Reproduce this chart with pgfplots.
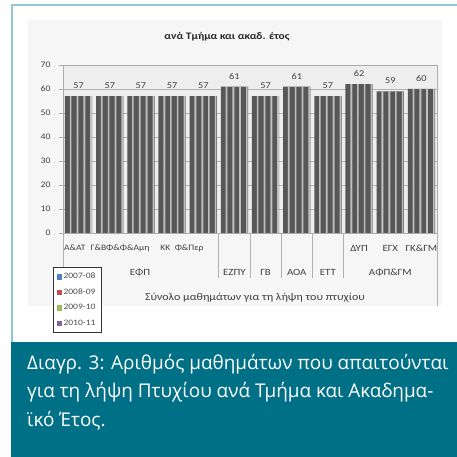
\documentclass[border=0pt]{standalone}
\usepackage{pgfplots}
\pgfplotsset{compat=1.18}
\usepackage{fontspec}
\setmainfont{Carlito}[FakeStretch=1.15]
\newfontfamily\capfont{Open Sans}
\definecolor{frameblue}{RGB}{147,198,214}
\definecolor{capteal}{RGB}{0,112,134}
\definecolor{xlblue}{RGB}{79,129,189}
\definecolor{xlred}{RGB}{192,80,77}
\definecolor{xlgreen}{RGB}{155,187,89}
\definecolor{xlpurple}{RGB}{128,100,162}
\pgfplotstableread{
x v
0 57
1 57
2 57
3 57
4 57
5 61
6 57
7 61
8 57
9 62
10 59
11 60
}\groupdata
\pgfplotsset{
  darkbar/.style={ybar, forget plot, bar width=6.8bp, draw=none, fill=black!66},
  lightbar/.style={ybar, forget plot, bar width=1.6bp, draw=none, fill=black!25},
}
\tikzset{cat/.style={font=\fontsize{9.5}{11}\selectfont, text=black!75, inner sep=0},
  cat1/.style={font=\fontsize{8.3}{10}\selectfont, text=black!75, inner sep=0}}
\begin{document}
\begin{tikzpicture}
\begin{scope}[x=1bp,y=1bp]
\path[use as bounding box] (0,0) rectangle (457,457);
\fill[white] (0,0) rectangle (457,457);
\fill[gray!7] (28,151) rectangle (442,437);
\draw[frameblue, line width=1.5bp] (12,115) -- (12,452) -- (457,452);
\fill[capteal] (11,0) rectangle (457,115);
\node[anchor=base west, inner sep=0, text=white, font=\capfont\fontsize{19}{22}\selectfont] at (27,87) {Διαγρ. 3: Αριθμός μαθημάτων που απαιτούνται};
\node[anchor=base west, inner sep=0, text=white, font=\capfont\fontsize{19}{22}\selectfont] at (27,59) {για τη λήψη Πτυχίου ανά Τμήμα και Ακαδημα-};
\node[anchor=base west, inner sep=0, text=white, font=\capfont\fontsize{19}{22}\selectfont] at (27,30) {ϊκό Έτος.};
\end{scope}
\begin{axis}[
  at={(63bp,224bp)}, anchor=south west,
  scale only axis, width=374bp, height=168bp,
  xmin=-0.5, xmax=11.5, ymin=0, ymax=70,
  ytick={0,10,...,70}, xtick=\empty,
  minor xtick={0.5,1.5,...,10.5},
  xminorgrids, minor grid style={gray!40, line width=0.6bp},
  ymajorgrids, major grid style={gray!60, line width=0.5bp},
  axis background/.style={fill=gray!13},
  axis line style={gray!65, line width=0.8bp},
  tick style={gray!65}, tick pos=left, tick align=outside,
  major tick length=4bp, minor tick length=0pt,
  tick label style={font=\fontsize{8.5}{10}\selectfont, text=black!75},
  yticklabel style={xshift=-5bp},
  /pgf/number format/assume math mode=true,
  clip=false,
  legend style={at={(rel axis cs:-0.027,-0.205)}, anchor=north west,
    draw=black!80, fill=white, font=\fontsize{8.3}{9}\selectfont,
    row sep=4.5bp, inner sep=3.5bp, text=black!70},
  legend cell align=left,
]
\addplot[darkbar, bar shift=-10.2bp] table[x=x,y=v] {\groupdata};
\addplot[darkbar, bar shift=-3.4bp] table[x=x,y=v] {\groupdata};
\addplot[darkbar, bar shift=3.4bp] table[x=x,y=v] {\groupdata};
\addplot[darkbar, bar shift=10.2bp] table[x=x,y=v] {\groupdata};
\addplot[lightbar, bar shift=-8.0bp] table[x=x,y=v] {\groupdata};
\addplot[lightbar, bar shift=-1.2bp] table[x=x,y=v] {\groupdata};
\addplot[lightbar, bar shift=5.6bp] table[x=x,y=v] {\groupdata};
\addplot[lightbar, bar shift=12.4bp] table[x=x,y=v] {\groupdata};
\addplot[ybar, forget plot, bar width=0pt, bar shift=0pt, draw=none, fill=none,
  nodes near coords, nodes near coords style={font=\fontsize{9}{10}\selectfont, anchor=south, yshift=4bp, text=black!75}] table[x=x,y=v] {\groupdata};
\addlegendimage{legend image code/.code={\fill[xlblue] (0bp,-2.3bp) rectangle (4.6bp,2.3bp);}}
\addlegendentry{2007-08}
\addlegendimage{legend image code/.code={\fill[xlred] (0bp,-2.3bp) rectangle (4.6bp,2.3bp);}}
\addlegendentry{2008-09}
\addlegendimage{legend image code/.code={\fill[xlgreen] (0bp,-2.3bp) rectangle (4.6bp,2.3bp);}}
\addlegendentry{2009-10}
\addlegendimage{legend image code/.code={\fill[xlpurple] (0bp,-2.3bp) rectangle (4.6bp,2.3bp);}}
\addlegendentry{2010-11}
% multi-level category axis
\draw[gray!60, line width=0.8bp] (axis cs:-0.5,0) -- (axis cs:-0.5,-18.75);
\draw[gray!60, line width=0.8bp] (axis cs:4.5,0) -- (axis cs:4.5,-18.75);
\draw[gray!60, line width=0.8bp] (axis cs:5.5,0) -- (axis cs:5.5,-18.75);
\draw[gray!60, line width=0.8bp] (axis cs:6.5,0) -- (axis cs:6.5,-18.75);
\draw[gray!60, line width=0.8bp] (axis cs:7.5,0) -- (axis cs:7.5,-18.75);
\draw[gray!60, line width=0.8bp] (axis cs:8.5,0) -- (axis cs:8.5,-18.75);
\draw[gray!60, line width=0.8bp] (axis cs:11.5,0) -- (axis cs:11.5,-30.4);
\node[cat1, anchor=west] at (axis cs:-0.47,-6.25) {Α\&ΑΤ};
\node[cat1, anchor=west] at (axis cs:0.38,-6.25) {Γ\&ΒΦ\&Φ\&Αμη};
\node[cat1, anchor=west] at (axis cs:2.62,-6.25) {ΚΚ};
\node[cat1, anchor=west] at (axis cs:3.08,-6.25) {Φ\&Περ};
\node[cat] at (axis cs:9,-6.25) {ΔΥΠ};
\node[cat] at (axis cs:10,-6.25) {ΕΓΧ};
\node[cat] at (axis cs:11,-6.25) {ΓΚ\&ΓΜ};
\node[cat] at (axis cs:1.97,-16.25) {ΕΦΠ};
\node[cat] at (axis cs:5,-16.25) {ΕΖΠΥ};
\node[cat] at (axis cs:6,-16.25) {ΓΒ};
\node[cat] at (axis cs:7,-16.25) {ΑΟΑ};
\node[cat] at (axis cs:8,-16.25) {ΕΤΤ};
\node[cat] at (axis cs:10,-16.25) {ΑΦΠ\&ΓΜ};
\node[cat, font=\fontsize{10.5}{12}\selectfont] at (axis cs:5.66,-27.1) {Σύνολο μαθημάτων για τη λήψη του πτυχίου};
\node[font=\bfseries\fontsize{10}{12}\selectfont, text=black!85, inner sep=0] at (axis cs:4.76,81.7) {ανά Τμήμα και ακαδ. έτος};
\end{axis}
\end{tikzpicture}
\end{document}
